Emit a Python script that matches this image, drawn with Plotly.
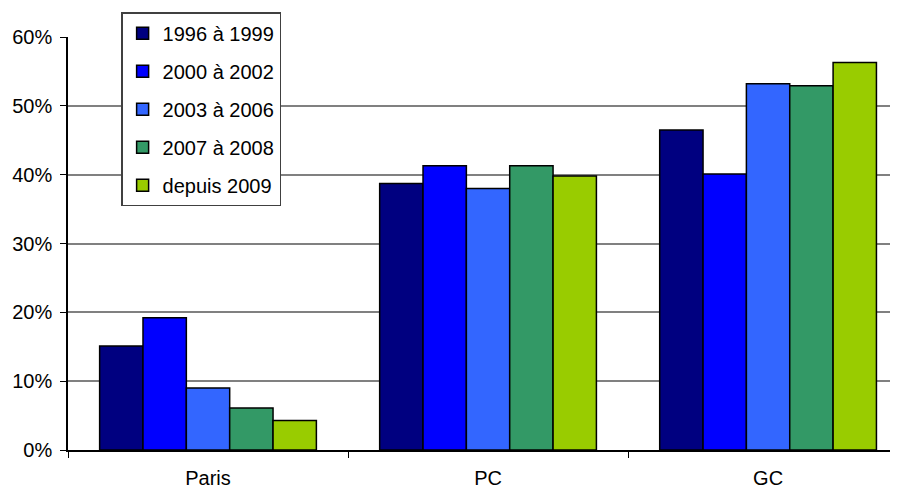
import plotly.graph_objects as go

# Share by area and period (%)
zones = ["Paris", "PC", "GC"]
periodes = ["1996 à 1999", "2000 à 2002", "2003 à 2006", "2007 à 2008", "depuis 2009"]
couleurs = ["#000080", "#0000FF", "#3366FF", "#339966", "#99CC00"]

v_1996_1999 = [15.1, 38.7, 46.5]
v_2000_2002 = [19.2, 41.3, 40.1]
v_2003_2006 = [9.0, 38.0, 53.2]
v_2007_2008 = [6.1, 41.3, 52.9]
v_depuis_2009 = [4.3, 39.8, 56.3]

series = [v_1996_1999, v_2000_2002, v_2003_2006, v_2007_2008, v_depuis_2009]

fig = go.Figure()
for i, (nom, vals, col) in enumerate(zip(periodes, series, couleurs)):
    fig.add_trace(go.Bar(
        x=zones, y=vals, name=nom, legendgroup=str(i),
        marker=dict(color=col, line=dict(color="black", width=1.5)),
    ))

# page body has an 8px margin, so the figure is a bit smaller than the window
fig.update_layout(
    width=890, height=482,
    margin=dict(l=60, r=0, t=29, b=40),
    plot_bgcolor="white", paper_bgcolor="white",
    font=dict(family="Liberation Sans, Arial", size=20, color="black"),
    barmode="group", bargap=0.226, bargroupgap=0,
    showlegend=True,
    legend=dict(
        x=0.064, y=1.06, xanchor="left", yanchor="top",
        bgcolor="white", bordercolor="#404040", borderwidth=1.5,
        font=dict(size=20), tracegroupgap=9, itemwidth=30,
    ),
)
fig.update_xaxes(
    range=[-0.5, 2.464], showline=True, linecolor="black", linewidth=1.5,
    ticks="outside", tickson="boundaries", ticklen=6, tickcolor="black",
    ticklabelstandoff=9, showgrid=False,
)
fig.update_yaxes(
    range=[0, 60], dtick=10, ticksuffix="%",
    showline=True, linecolor="black", linewidth=1.5,
    ticks="outside", ticklen=6, tickcolor="black",
    ticklabelstandoff=4,
    showgrid=True, gridcolor="#808080", gridwidth=1.5, zeroline=False,
)

fig.write_html("out.html")
